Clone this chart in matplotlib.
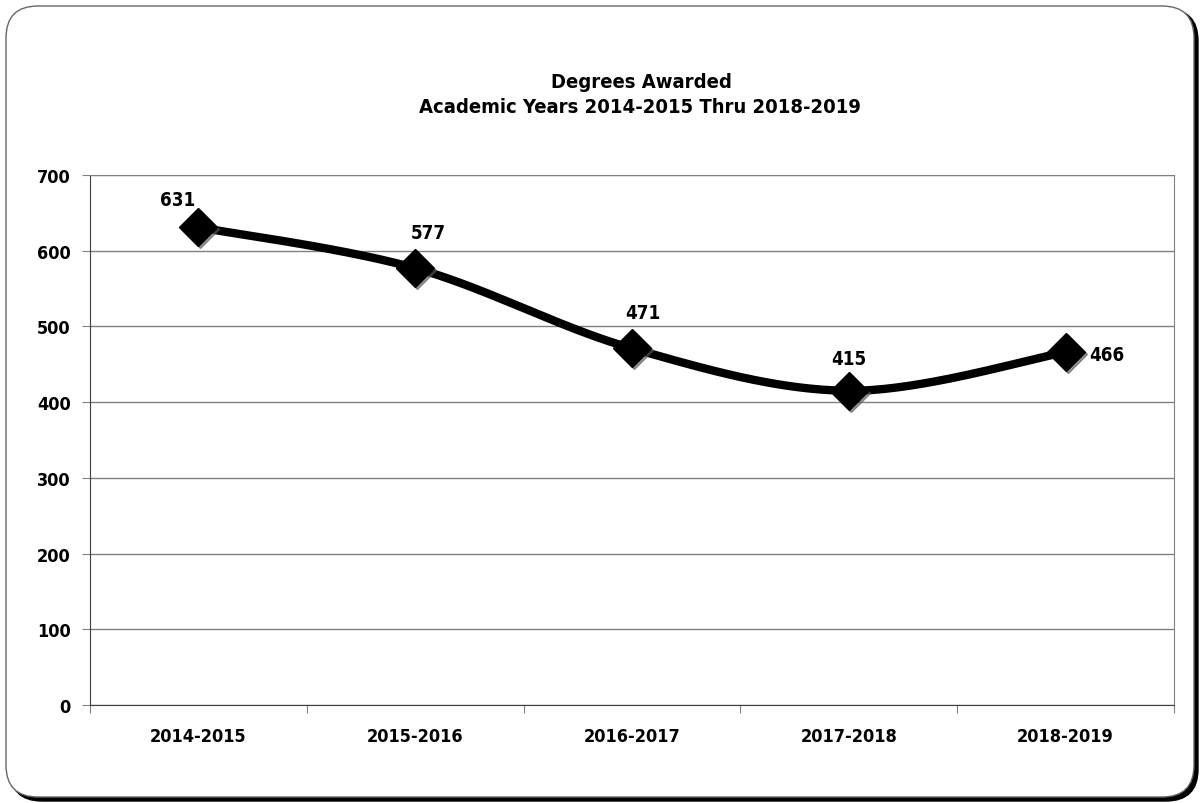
import numpy as np
import matplotlib
matplotlib.use('Agg')
import matplotlib.pyplot as plt
from matplotlib.patches import FancyBboxPatch
from matplotlib.transforms import ScaledTranslation

plt.rcParams['font.family'] = ['DejaVu Sans']
plt.rcParams['font.stretch'] = 'condensed'
plt.rcParams['font.weight'] = 'bold'

years = ['2014-2015', '2015-2016', '2016-2017', '2017-2018', '2018-2019']
degrees = [631, 577, 471, 415, 466]
# label offsets in points (dx, dy)
label_offsets = [(-15, 20), (9.5, 26), (8, 25.5), (0, 23), (29.5, -1.5)]


def catmull_rom(x, y, n=40):
    # smooth curve like Excel's smoothed line
    x = np.asarray(x, float)
    y = np.asarray(y, float)
    px = np.concatenate([[x[0]], x, [x[-1]]])
    py = np.concatenate([[y[0]], y, [y[-1]]])
    xs, ys = [], []
    for i in range(1, len(px) - 2):
        p0, p1, p2, p3 = (np.array([px[j], py[j]]) for j in range(i - 1, i + 3))
        c1 = p1 + (p2 - p0) / 6
        c2 = p2 - (p3 - p1) / 6
        t = np.linspace(0, 1, n)[:, None]
        b = (1 - t) ** 3 * p1 + 3 * (1 - t) ** 2 * t * c1 + 3 * (1 - t) * t ** 2 * c2 + t ** 3 * p2
        xs.extend(b[:, 0])
        ys.extend(b[:, 1])
    return np.array(xs), np.array(ys)


fig = plt.figure(figsize=(12, 8.04), dpi=100)

# rounded frame with shadow (pixel coordinates, origin bottom-left)
shadow = FancyBboxPatch((10, 2), 1188, 792,
                        boxstyle='round,pad=0,rounding_size=32',
                        transform=None, facecolor='black',
                        edgecolor='black', lw=1, zorder=-2)
frame = FancyBboxPatch((6, 6), 1188, 791,
                       boxstyle='round,pad=0,rounding_size=32',
                       transform=None, facecolor='white',
                       edgecolor='#666666', lw=1, zorder=-1)
fig.patches.extend([shadow, frame])

ax = fig.add_axes([90 / 1200, 1 - 706 / 804, 1084 / 1200, 530 / 804])
ax.set_facecolor('none')

xpos = np.arange(len(years)) + 0.5
sx, sy = catmull_rom(xpos, degrees)
ax.plot(sx, sy, color='black', lw=6, solid_capstyle='round', zorder=3)
# soft marker shadow, then the markers
ax.plot(xpos, degrees, linestyle='none', marker='D', markersize=19,
        color='#555555', alpha=0.6, zorder=3.5,
        transform=ax.transData + ScaledTranslation(2 / 100, -2 / 100, fig.dpi_scale_trans))
ax.plot(xpos, degrees, linestyle='none', marker='D', markersize=19,
        color='black', zorder=4)

for x, v, (dx, dy) in zip(xpos, degrees, label_offsets):
    ax.annotate(str(v), (x, v), xytext=(dx, dy), textcoords='offset points',
                ha='center', va='center', fontsize=13.5)

ax.set_xlim(0, 5)
ax.set_ylim(0, 700)
ax.set_yticks(range(0, 701, 100))
ax.yaxis.grid(True, color='#808080', lw=1)
ax.set_axisbelow(True)

ax.set_xticks(range(0, 6))
ax.set_xticklabels([])
ax.set_xticks(xpos, minor=True)
ax.set_xticklabels(years, minor=True)
ax.tick_params(axis='x', which='minor', length=0, pad=16, labelsize=13)
ax.tick_params(axis='x', which='major', length=6, color='#808080')
ax.tick_params(axis='y', length=6, color='#808080', pad=8, labelsize=13)

ax.spines['left'].set_color('#404040')
ax.spines['bottom'].set_color('#404040')
ax.spines['top'].set_color('#808080')
ax.spines['right'].set_color('#808080')

fig.text(641 / 1200, 1 - 82 / 804, 'Degrees Awarded', ha='center', va='center',
         fontsize=14.5)
fig.text(640 / 1200, 1 - 108 / 804, 'Academic Years 2014-2015 Thru 2018-2019',
         ha='center', va='center', fontsize=14.5)

fig.savefig('out.png', dpi=100)
plt.close()
